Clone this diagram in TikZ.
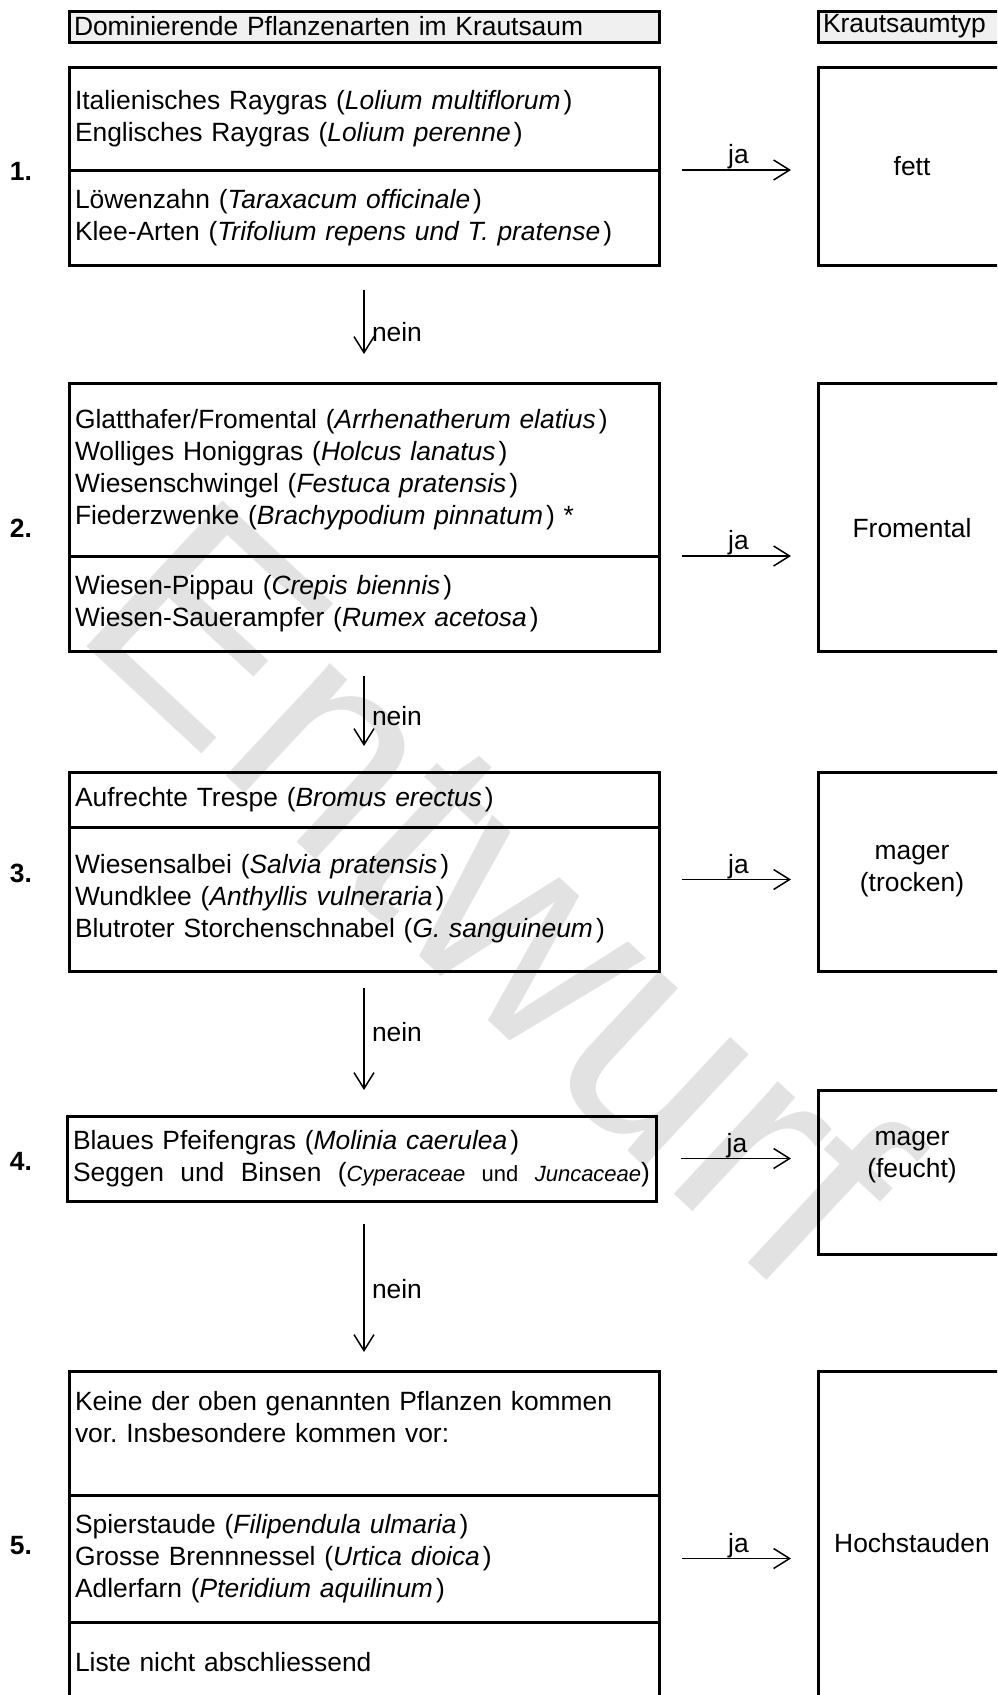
\documentclass[tikz,border=0pt]{standalone}
\usepackage{fontspec}
\setmainfont{Liberation Sans}
\usepackage{tikz}
\usetikzlibrary{arrows.meta}
\definecolor{kopfgrau}{RGB}{240,240,240}
\definecolor{entwurfgrau}{RGB}{226,226,226}
\newcommand{\gattung}[1]{\textit{#1}\kern3pt}
\newcommand{\kleinlat}{\fontsize{22}{32}\selectfont}
\frenchspacing

\begin{document}
\begin{tikzpicture}[x=1pt, y=-1pt,
		every node/.style={font=\fontsize{26.4}{32}\selectfont, outer sep=0pt},
		kopf/.style={draw, line width=3pt, fill=kopfgrau, anchor=north west, minimum height=31pt, inner xsep=5pt, inner ysep=0pt, align=left},
		arten/.style={draw, line width=3pt, anchor=north west, text width=578pt, align=left, inner xsep=6pt, inner ysep=0pt},
		typ/.style={draw, line width=3pt, anchor=north west, minimum width=188pt, align=center},
		nummer/.style={font=\fontsize{26.4}{32}\selectfont\bfseries},
		nein/.style={right, inner xsep=6pt, xshift=2pt},
		pfeil/.style={line width=1.5pt, -{Straight Barb[length=16pt, width=20pt]}}]
		\useasboundingbox (0,0) rectangle (997,1695);
		\clip (0,0) rectangle (997,1695);
		% Wasserzeichen
		\node[text=entwurfgrau, rotate=-43, font=\fontsize{290}{290}\selectfont] (entwurf) at (500,890) {Entwurf};
		% Kopfzeile
		\node[kopf, text width=580pt] (kopfarten) at (69,11) {Dominierende Pflanzenarten im Krautsaum};
		\node[kopf, text width=180pt] (kopftyp) at (818,11) {Krautsaumtyp};
		% 1.
		\node[arten, minimum height=103pt] (art1a) at (69,67) {Italienisches Raygras (\gattung{Lolium multiflorum})\\Englisches Raygras (\gattung{Lolium perenne})};
		\node[arten, minimum height=95pt] (art1b) at (art1a.south west) {Löwenzahn (\gattung{Taraxacum officinale})\\Klee-Arten (\gattung{Trifolium repens und T. pratense})};
		\node[typ, minimum height=198pt] (typ1) at (818,67) {fett};
		\node[nummer] (nr1) at (21,171) {1.};
		% 2.
		\node[arten, minimum height=173pt] (art2a) at (69,383) {Glatthafer/Fromental (\gattung{Arrhenatherum elatius})\\Wolliges Honiggras (\gattung{Holcus lanatus})\\Wiesenschwingel (\gattung{Festuca pratensis})\\Fiederzwenke (\gattung{Brachypodium pinnatum}) *};
		\node[arten, minimum height=95pt] (art2b) at (art2a.south west) {Wiesen-Pippau (\gattung{Crepis biennis})\\Wiesen-Sauerampfer (\gattung{Rumex acetosa})};
		\node[typ, minimum height=268pt, label={[yshift=-11pt]center:Fromental}] (typ2) at (818,383) {};
		\node[nummer] (nr2) at (21,528) {2.};
		% 3.
		\node[arten, minimum height=55pt] (art3a) at (69,772) {Aufrechte Trespe (\gattung{Bromus erectus})};
		\node[arten, minimum height=144pt] (art3b) at (art3a.south west) {Wiesensalbei (\gattung{Salvia pratensis})\\Wundklee (\gattung{Anthyllis vulneraria})\\Blutroter Storchenschnabel (\gattung{G. sanguineum})};
		\node[typ, minimum height=199pt] (typ3) at (818,772) {mager\\(trocken)};
		\node[nummer] (nr3) at (21,873) {3.};
		% 4.
		\node[arten, text width=577pt, minimum height=85pt] (art4) at (67,1116) {Blaues Pfeifengras (\gattung{Molinia caerulea})\\\hbox to 577pt{Seggen\hfil\ und\hfil\ Binsen\hfil\ ({\kleinlat\textit{Cyperaceae}\hfil\ und\hfil\ \textit{Juncaceae}})}};
		\node[typ, minimum height=164pt, label={[yshift=15pt, align=center]center:mager\\(feucht)}] (typ4) at (818,1090) {};
		\node[nummer] (nr4) at (21,1161) {4.};
		% 5.
		\node[arten, minimum height=124pt] (art5a) at (69,1371) {Keine der oben genannten Pflanzen kommen\\vor. Insbesondere kommen vor:\\\mbox{}};
		\node[arten, minimum height=127pt] (art5b) at (art5a.south west) {Spierstaude (\gattung{Filipendula ulmaria})\\Grosse Brennnessel (\gattung{Urtica dioica})\\Adlerfarn (\gattung{Pteridium aquilinum})};
		\node[arten, minimum height=80pt] (art5c) at (art5b.south west) {Liste nicht abschliessend};
		\node[typ, minimum height=344pt] (typ5) at (818,1371) {Hochstauden};
		\node[nummer] (nr5) at (21,1546) {5.};
		% ja
		\draw[pfeil, shorten <=23pt, shorten >=27pt] (art1a.south east) -- (art1a.south east -| typ1.west) node[midway, above, inner sep=1pt] {ja};
		\draw[pfeil, shorten <=23pt, shorten >=27pt] (art2a.south east) -- (art2a.south east -| typ2.west) node[midway, above, inner sep=1pt] {ja};
		\draw[pfeil, shorten <=23pt, shorten >=27pt] ([yshift=-8pt]typ3.west -| art3b.east) -- ([yshift=-8pt]typ3.west) node[midway, above, inner sep=1pt] {ja};
		\draw[pfeil, shorten <=25pt, shorten >=27pt] (art4.east) -- (art4.east -| typ4.west) node[midway, above, inner sep=1pt] {ja};
		\draw[pfeil, shorten <=23pt, shorten >=27pt] (art5b.east) -- (art5b.east -| typ5.west) node[midway, above, inner sep=1pt] {ja};
		% nein
		\draw[pfeil, shorten <=25pt, shorten >=29pt] (art1b.south) -- (art2a.north) node[nein, pos=0.57] {nein};
		\draw[pfeil, shorten <=25pt, shorten >=26pt] (art2b.south) -- (art3a.north) node[nein, pos=0.54] {nein};
		\draw[pfeil, shorten <=17pt, shorten >=26pt] (art3b.south) -- (art4.north -| art3b.south) node[nein, pos=0.42] {nein};
		\draw[pfeil, shorten <=23pt, shorten >=19pt] (art4.south -| art5a.south) -- (art5a.north) node[nein, pos=0.52] {nein};
\end{tikzpicture}
\end{document}
